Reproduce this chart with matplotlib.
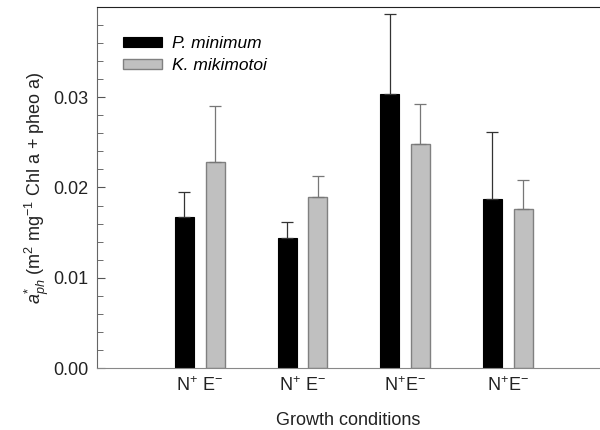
import numpy as np
import matplotlib
matplotlib.use('Agg')
from matplotlib import pyplot as plt
from matplotlib.ticker import MultipleLocator, FormatStrFormatter

plt.rcParams['font.family'] = ['Liberation Sans', 'DejaVu Sans']
plt.rcParams['mathtext.fontset'] = 'custom'
plt.rcParams['mathtext.rm'] = 'Liberation Sans'
plt.rcParams['mathtext.it'] = 'Liberation Sans:italic'

# data
conditions = [r'N$^{+}$ E$^{-}$', r'N$^{+}$ E$^{-}$', r'N$^{+}$E$^{-}$', r'N$^{+}$E$^{-}$']
p_minimum = [0.0167, 0.0144, 0.0304, 0.0187]
p_minimum_err = [0.0028, 0.0018, 0.0088, 0.0074]
k_mikimotoi = [0.0228, 0.0190, 0.0248, 0.0176]
k_mikimotoi_err = [0.0062, 0.0023, 0.0044, 0.0032]
yticks = [0.00, 0.01, 0.02, 0.03]

x = np.arange(1, len(conditions) + 1)
w = 0.185
off = 0.15

fig = plt.figure(figsize=(6, 4.3), dpi=100)
ax = fig.add_axes([0.162, 0.144, 0.838, 0.84])

ax.bar(x - off, p_minimum, w, color='black', edgecolor='black', linewidth=0.8,
       yerr=[np.zeros(4), p_minimum_err],
       error_kw=dict(ecolor='#333333', elinewidth=0.9, capsize=4, capthick=0.9),
       label='P. minimum')
ax.bar(x + off, k_mikimotoi, w, color='#c0c0c0', edgecolor='#808080', linewidth=1.0,
       yerr=[np.zeros(4), k_mikimotoi_err],
       error_kw=dict(ecolor='#777777', elinewidth=0.9, capsize=4, capthick=0.9),
       label='K. mikimotoi')

ax.set_xlim(0, 4.9)
ax.set_ylim(0, 0.04)
ax.set_yticks(yticks)
ax.yaxis.set_minor_locator(MultipleLocator(0.002))
ax.yaxis.set_major_formatter(FormatStrFormatter('%.2f'))
ax.tick_params(axis='y', which='both', direction='in', labelsize=13, colors='#555555',
               labelcolor='#222222', pad=6)
ax.tick_params(axis='y', which='major', length=6)
ax.tick_params(axis='y', which='minor', length=4)
ax.set_xticks(x)
ax.set_xticklabels(conditions, fontsize=13, color='#222222')
ax.tick_params(axis='x', length=0, pad=6)

ax.spines['right'].set_visible(False)
ax.spines['top'].set_color('#222222')
ax.spines['left'].set_color('#666666')
ax.spines['bottom'].set_color('#888888')

ax.set_xlabel('Growth conditions', fontsize=13, labelpad=12, color='#222222')
ax.set_ylabel(r'$a^{*}_{ph}$ (m$^{2}$ mg$^{-1}$ Chl a + pheo a)', fontsize=13,
              labelpad=2, color='#222222')

leg = ax.legend(loc='upper left', bbox_to_anchor=(0.021, 0.962), frameon=False, fontsize=12.5,
                handlelength=2.25, handleheight=0.5, handletextpad=0.55, labelspacing=0.38)
for t in leg.get_texts():
    t.set_fontstyle('italic')

fig.savefig('out.png', dpi=100)
